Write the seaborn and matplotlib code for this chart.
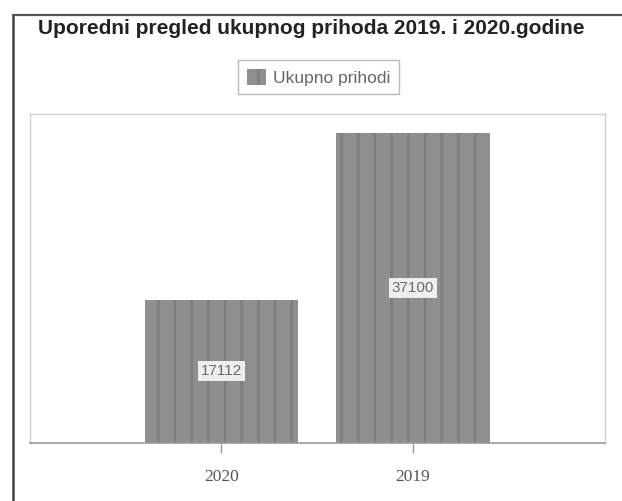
import matplotlib
matplotlib.use("Agg")
import matplotlib.pyplot as plt
import matplotlib.patches as mpatches
from matplotlib.lines import Line2D
import seaborn as sns
import pandas as pd

# data
years = ["2020", "2019"]
income = [17112, 37100]
series_name = "Ukupno prihodi"
title = "Uporedni pregled ukupnog prihoda 2019. i 2020.godine"

df = pd.DataFrame({"godina": years, "prihod": income})

sns.set_theme(style="white")
plt.rcParams["font.family"] = ["Liberation Sans", "DejaVu Sans"]
plt.rcParams["hatch.linewidth"] = 2.0

fig = plt.figure(figsize=(6.22, 5.01), dpi=100)
ax = fig.add_axes([0.048, 0.116, 0.924, 0.657])

sns.barplot(data=df, x="godina", y="prihod", order=years, color="#8f8f8f",
            width=0.8, saturation=1, ax=ax)
for bar in ax.patches:
    bar.set_hatch("|")
    bar.set_edgecolor("#7e7e7e")
    bar.set_linewidth(0)

ax.set_xlim(-1, 2)
ax.set_ylim(0, 39400)
ax.set_xlabel("")
ax.set_ylabel("")
ax.set_yticks([])
ax.tick_params(axis="x", length=7, width=1, color="#9a9a9a", direction="out",
               bottom=True, labelsize=12.5, labelcolor="#555555", pad=12)
for lbl in ax.get_xticklabels():
    lbl.set_family(["Liberation Serif", "DejaVu Serif"])

for side in ["top", "right", "left"]:
    ax.spines[side].set_color("#d0d0d0")
    ax.spines[side].set_linewidth(1)
ax.spines["bottom"].set_color("#9a9a9a")
ax.spines["bottom"].set_linewidth(1.2)

for i, v in enumerate(income):
    ax.text(i, v / 2, str(v), ha="center", va="center", fontsize=11,
            color="#6a6a6a",
            bbox=dict(boxstyle="square,pad=0.2", facecolor="#eeeeee", edgecolor="none"))

fig.text(0.5, 0.944, title, ha="center", va="center", fontsize=15,
         fontweight="bold", color="#222222")

handle = mpatches.Patch(facecolor="#8f8f8f", edgecolor="#7e7e7e", hatch="|", linewidth=0)
fig.legend([handle], [series_name], loc="center", bbox_to_anchor=(0.512, 0.846),
           fontsize=12.5, frameon=True, fancybox=False, edgecolor="#aaaaaa",
           labelcolor="#666666", handlelength=1.1, handleheight=1.1,
           handletextpad=0.4, borderpad=0.5)

# outer frame of the scanned chart (only left and top edges visible)
fig.add_artist(Line2D([0.021, 0.021], [0.0, 0.97], transform=fig.transFigure,
                      color="#444444", linewidth=1.8))
fig.add_artist(Line2D([0.021, 1.0], [0.97, 0.97], transform=fig.transFigure,
                      color="#555555", linewidth=1.6))

fig.savefig("out.png", dpi=100)
